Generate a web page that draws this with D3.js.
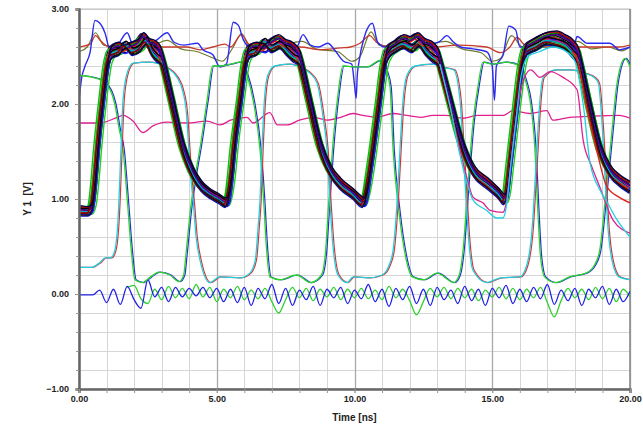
<!DOCTYPE html>
<html><head><meta charset="utf-8">
<script src="https://cdn.jsdelivr.net/npm/d3@7"></script>
<style>
html,body{margin:0;padding:0;background:#fff;}
svg{display:block;}
.tick text{font-family:"Liberation Sans Narrow","Arial Narrow","Liberation Sans",Arial,sans-serif;font-weight:bold;font-size:9px;fill:#222;}
</style></head>
<body><svg id="c" width="643" height="426"></svg>
<script>
// ---------------- DATA ----------------
const xTickLabels = [0, 5, 10, 15, 20];
const yTickLabels = [-1, 0, 1, 2, 3];
const xTitle = "Time [ns]";
const yTitle = "Y 1  [V]";

// two typical shapes of the dense bundle of traces [time ns, volts]
const bundleBaseA = [[0,0.88],[0.3,0.87],[0.45,0.92],[0.55,1.15],[0.65,1.5],[0.85,2.05],[1.0,2.4],[1.15,2.56],[1.4,2.6],[1.6,2.57],[1.85,2.6],[2.1,2.63],[2.3,2.7],[2.5,2.64],[2.7,2.62],[2.9,2.56],[3.05,2.42],[3.35,2.05],[3.75,1.55],[4.1,1.28],[4.4,1.14],[4.7,1.06],[5.0,1.01],[5.3,0.96],[5.4,1.0],[5.5,1.2],[5.6,1.5],[5.85,2.05],[6.0,2.4],[6.15,2.57],[6.4,2.6],[6.7,2.58],[6.95,2.64],[7.2,2.68],[7.45,2.63],[7.7,2.6],[7.95,2.52],[8.05,2.42],[8.35,2.04],[8.75,1.55],[9.1,1.3],[9.45,1.17],[9.9,1.06],[10.2,0.98],[10.3,0.96],[10.4,1.02],[10.5,1.2],[10.65,1.5],[10.9,2.05],[11.05,2.4],[11.2,2.57],[11.45,2.62],[11.75,2.68],[12.0,2.66],[12.25,2.7],[12.5,2.64],[12.8,2.6],[13.0,2.52],[13.1,2.42],[13.45,2.04],[13.95,1.52],[14.3,1.3],[14.8,1.17],[15.2,1.06],[15.4,1.0],[15.5,1.05],[15.6,1.3],[15.7,1.55],[15.9,2.05],[16.05,2.4],[16.2,2.58],[16.5,2.64],[16.9,2.7],[17.3,2.72],[17.6,2.68],[17.9,2.62],[18.1,2.52],[18.2,2.4],[18.5,2.0],[18.9,1.52],[19.25,1.3],[19.6,1.2],[20.0,1.13]];
const bundleBaseB = [[0,0.86],[0.35,0.86],[0.5,0.95],[0.6,1.2],[0.7,1.55],[0.9,2.1],[1.05,2.42],[1.2,2.52],[1.45,2.55],[1.7,2.62],[1.95,2.55],[2.2,2.58],[2.45,2.66],[2.65,2.55],[2.85,2.48],[3.0,2.45],[3.1,2.35],[3.4,1.98],[3.8,1.5],[4.15,1.25],[4.45,1.12],[4.8,1.04],[5.1,0.99],[5.32,0.95],[5.42,1.02],[5.55,1.25],[5.65,1.55],[5.9,2.1],[6.05,2.42],[6.2,2.52],[6.45,2.55],[6.75,2.65],[7.0,2.58],[7.3,2.62],[7.55,2.55],[7.8,2.48],[8.0,2.45],[8.1,2.35],[8.4,1.98],[8.8,1.5],[9.15,1.27],[9.5,1.14],[9.95,1.04],[10.3,0.95],[10.42,1.05],[10.55,1.25],[10.7,1.55],[10.95,2.1],[11.1,2.42],[11.25,2.52],[11.5,2.58],[11.8,2.62],[12.1,2.58],[12.35,2.64],[12.6,2.55],[12.85,2.48],[13.05,2.44],[13.15,2.35],[13.5,1.98],[14.0,1.48],[14.35,1.27],[14.85,1.14],[15.25,1.04],[15.42,0.98],[15.55,1.1],[15.65,1.35],[15.75,1.6],[15.95,2.1],[16.1,2.42],[16.25,2.55],[16.6,2.6],[17.0,2.66],[17.35,2.64],[17.7,2.6],[17.95,2.52],[18.15,2.45],[18.25,2.35],[18.55,1.95],[18.95,1.48],[19.3,1.27],[19.65,1.17],[20.0,1.1]];
// individual traces of the bundle: shape family, time shift (ns), level shift (V), colour
const bundleFamily = ["A","B","A","B","A","B","A","B","A","B","A","B","A","B","A","B","A","B","A","B","A","B"];
const bundleShift = [0.0,0.03,-0.04,0.05,-0.13,0.12,0.06,-0.06,0.1,-0.1,0.02,-0.02,-0.01,0.04,0.07,-0.03,-0.05,0.01,0.03,-0.07,0.05,0.0];
const bundleLift  = [0.02,-0.02,0.04,0.0,0.0,-0.02,-0.03,0.03,0.03,0.02,0.04,-0.04,0.0,0.02,-0.04,0.01,-0.02,0.04,0.01,-0.01,0.05,-0.03];
const bundleColors = ["#000000","#000000","#101060","#303030","#10c010","#20d020","#000080","#0000e0","#008800","#00b000","#d00000","#1010c0","#000000","#c02090","#2020ff","#00b0b0","#e02020","#000000","#5000a0","#800000","#000040","#101010"];

const blueTop = [[0,2.04],[0.1,2.28],[0.22,2.4],[0.4,2.54],[0.58,2.88],[0.76,2.85],[0.94,2.75],[1.13,2.57],[1.4,2.62],[1.75,2.75],[1.96,2.62],[2.4,2.6],[2.85,2.68],[3.2,2.75],[3.45,2.65],[3.8,2.62],[4.3,2.64],[4.5,2.57],[4.85,2.52],[5.12,2.39],[5.35,2.42],[5.6,2.86],[5.78,2.83],[5.96,2.68],[6.2,2.6],[6.6,2.62],[7.0,2.6],[7.5,2.62],[7.9,2.6],[8.13,2.73],[8.4,2.62],[8.7,2.6],[9.03,2.64],[9.3,2.56],[9.6,2.45],[9.9,2.42],[10.0,2.2],[10.06,2.06],[10.1,2.3],[10.15,2.42],[10.35,2.7],[10.65,2.85],[10.84,2.65],[11.1,2.6],[11.6,2.62],[12.1,2.6],[12.6,2.62],[13.1,2.66],[13.35,2.72],[13.6,2.65],[13.85,2.6],[14.3,2.58],[14.8,2.55],[15.0,2.4],[15.08,2.04],[15.15,2.4],[15.4,2.52],[15.6,2.82],[15.85,2.78],[16.0,2.6],[16.5,2.6],[17.0,2.62],[17.5,2.6],[18.0,2.65],[18.08,2.71],[18.45,2.64],[18.7,2.64],[19.27,2.64],[19.62,2.57],[20,2.6]];
const redTop = [[0,2.6],[0.4,2.63],[0.6,2.72],[0.8,2.66],[1.1,2.6],[1.6,2.62],[2.2,2.6],[3.05,2.6],[3.9,2.6],[4.4,2.57],[4.85,2.6],[5.3,2.63],[5.5,2.6],[5.9,2.73],[6.2,2.62],[6.8,2.6],[7.6,2.6],[8.03,2.6],[8.75,2.57],[9.5,2.59],[9.85,2.6],[10.2,2.64],[10.55,2.72],[10.8,2.65],[11.3,2.6],[12,2.62],[12.8,2.6],[13.8,2.62],[14.8,2.6],[15.3,2.54],[15.64,2.6],[15.9,2.7],[16.2,2.62],[17,2.6],[18,2.6],[18.8,2.6],[19.6,2.6],[20,2.62]];
const oliveTop = [[0,2.55],[0.3,2.6],[0.6,2.75],[0.9,2.62],[1.5,2.6],[2.0,2.66],[2.5,2.6],[3.2,2.67],[3.7,2.58],[4.3,2.55],[4.9,2.48],[5.2,2.45],[5.6,2.6],[5.9,2.74],[6.2,2.6],[7,2.6],[8.1,2.66],[8.6,2.58],[9.4,2.55],[9.9,2.45],[10.2,2.5],[10.6,2.76],[10.9,2.62],[11.6,2.6],[12.6,2.62],[13.3,2.66],[13.9,2.58],[14.6,2.54],[15.0,2.45],[15.3,2.48],[15.7,2.72],[16.1,2.6],[17,2.6],[18.1,2.66],[18.6,2.58],[19.2,2.6],[19.7,2.56],[20,2.6]];
const pinkMid = [[0,1.8],[0.75,1.8],[1.4,1.86],[1.6,1.88],[1.96,1.82],[2.32,1.7],[2.68,1.77],[3.2,1.81],[3.9,1.8],[4.65,1.82],[5.12,1.78],[5.5,1.83],[6.1,1.86],[6.32,1.8],[6.93,1.91],[7.2,1.78],[7.55,1.78],[8.0,1.83],[8.5,1.86],[9.0,1.83],[9.5,1.86],[9.95,1.9],[10.3,1.88],[10.8,1.86],[11.4,1.9],[11.9,1.88],[12.4,1.86],[12.85,1.88],[13.3,1.88],[13.95,1.85],[14.45,1.88],[15.4,1.88],[15.75,1.93],[16.37,1.9],[16.98,1.93],[17.2,1.83],[17.82,1.86],[18.5,1.87],[19.6,1.88],[20,1.85]];
const cyanPulse = [[0,0.28],[0.45,0.28],[0.75,0.33],[0.95,0.38],[1.15,0.38],[1.3,0.46],[1.42,0.8],[1.52,1.5],[1.6,2.05],[1.75,2.33],[1.96,2.43],[2.5,2.44],[2.83,2.43],[3.2,2.38],[3.56,2.28],[3.75,2.15],[3.9,1.9],[3.98,1.55],[4.05,1.25],[4.14,0.99],[4.25,0.6],[4.39,0.36],[4.75,0.12],[5.1,0.18],[5.84,0.17],[6.2,0.22],[6.4,0.36],[6.5,0.7],[6.57,0.99],[6.64,1.52],[6.72,2.0],[6.85,2.3],[7.1,2.4],[7.6,2.42],[8.1,2.38],[8.4,2.32],[8.64,2.22],[8.86,1.86],[9.0,1.52],[9.1,1.0],[9.22,0.5],[9.4,0.2],[9.73,0.12],[9.95,0.18],[10.5,0.17],[11.0,0.2],[11.25,0.3],[11.4,0.46],[11.55,0.99],[11.65,1.52],[11.75,2.0],[11.9,2.3],[12.2,2.4],[12.8,2.42],[13.3,2.38],[13.6,2.36],[13.83,2.04],[13.94,1.52],[14.05,1.0],[14.15,0.55],[14.3,0.25],[14.8,0.12],[15.3,0.17],[16.0,0.18],[16.25,0.3],[16.45,0.7],[16.55,1.17],[16.62,1.52],[16.72,2.0],[16.85,2.28],[17.3,2.36],[17.8,2.36],[18.4,2.32],[18.7,2.28],[18.85,2.22],[19.0,1.73],[19.1,1.2],[19.2,0.7],[19.35,0.35],[19.6,0.18],[20,0.15]];
const greenPulse = [[0,2.3],[0.5,2.28],[0.8,2.25],[1.13,2.15],[1.3,2.0],[1.45,1.75],[1.6,1.52],[1.75,1.0],[1.9,0.45],[2.03,0.15],[2.3,0.12],[2.6,0.18],[2.9,0.23],[3.3,0.2],[3.63,0.13],[3.8,0.2],[3.88,0.41],[4.05,0.9],[4.25,1.3],[4.4,1.55],[4.65,2.04],[4.85,2.4],[5.12,2.4],[5.5,2.42],[5.84,2.44],[6.1,2.3],[6.32,2.04],[6.57,1.52],[6.7,1.0],[6.8,0.5],[6.93,0.18],[7.3,0.15],[7.9,0.2],[8.4,0.12],[8.8,0.2],[8.95,0.45],[9.05,0.9],[9.2,1.52],[9.4,2.1],[9.58,2.4],[9.95,2.39],[10.45,2.39],[10.93,2.46],[11.15,2.35],[11.29,2.18],[11.4,1.52],[11.6,0.9],[11.85,0.4],[12.1,0.18],[12.5,0.15],[13.0,0.22],[13.6,0.12],[13.8,0.2],[13.94,0.46],[14.12,1.17],[14.3,1.8],[14.5,2.22],[14.66,2.44],[15.0,2.42],[15.5,2.44],[16.0,2.4],[16.2,2.25],[16.37,2.04],[16.55,1.52],[16.65,0.9],[16.75,0.4],[16.9,0.18],[17.3,0.12],[17.8,0.18],[18.4,0.22],[18.7,0.3],[18.9,0.46],[19.1,0.99],[19.35,1.73],[19.53,2.22],[19.82,2.48],[20,2.39]];
// fast ringing near 0 V, sampled every 0.25 ns
const blueRingStart = 0, ringStep = 0.25;
const blueRing = [-0.01,-0.01,-0.01,0.04,-0.09,0.05,-0.11,0.08,-0.06,-0.15,0.15,-0.03,0.07,-0.08,0.07,-0.03,0.06,-0.02,0.07,-0.04,0.06,-0.08,0.05,-0.09,0.07,-0.12,0.06,-0.05,0.1,-0.1,0.06,-0.12,0.04,-0.06,0.08,-0.12,0.05,-0.04,0.07,-0.1,0.04,-0.05,0.1,-0.08,0.05,-0.13,0.06,-0.06,0.08,-0.1,0.05,-0.12,0.07,-0.06,0.04,-0.1,0.08,-0.07,0.05,-0.12,0.06,-0.04,0.09,-0.1,0.05,-0.08,0.07,-0.05,0.1,-0.11,0.04,-0.07,0.06,-0.12,0.05,-0.04,0.08,-0.11,0.05,-0.08,0.03];
const greenRingStart = 1.75;
const greenRing = [0.07,0.09,-0.05,-0.1,0.05,-0.06,0.08,-0.04,0.06,-0.05,0.1,-0.03,0.07,-0.08,0.05,-0.04,0.08,-0.06,0.04,-0.05,0.06,-0.08,-0.2,-0.06,0.07,-0.04,0.06,-0.07,0.05,-0.03,0.07,-0.06,0.05,-0.04,0.06,-0.05,0.04,-0.06,0.08,-0.04,0.05,-0.07,-0.22,-0.08,0.06,-0.03,0.07,-0.05,0.06,-0.04,0.05,-0.07,0.04,-0.03,0.07,-0.05,0.06,-0.06,0.05,-0.04,0.07,-0.09,-0.24,-0.07,0.06,-0.04,0.05,-0.06,0.07,-0.05,0.06,-0.08,0.05,-0.03];
// traces that leave the bundle on the right
const pinkOut = [[13.1,2.42],[13.45,2.0],[13.8,1.55],[14.1,1.2],[14.3,1.02],[14.66,0.96],[14.92,0.88],[15.39,0.86],[15.5,0.95],[15.65,1.3],[15.8,1.7],[16.0,2.1],[16.2,2.3],[16.4,2.36],[16.73,2.28],[17.1,2.34],[17.57,2.28],[18.08,2.15],[18.3,1.62],[18.6,1.35],[18.9,1.13],[19.38,0.78],[20,0.64]];
const cyanOut = [[13.1,2.42],[13.45,2.0],[13.8,1.5],[14.1,1.15],[14.3,0.99],[14.8,0.88],[15.17,0.8],[15.39,0.8],[15.53,0.96],[15.65,1.3],[15.85,1.8],[16.05,2.3],[16.3,2.5],[16.7,2.55],[17.2,2.6],[17.7,2.55],[18.0,2.45],[18.3,2.0],[18.55,1.38],[18.9,1.1],[19.2,0.95],[19.53,0.78],[20,0.6]];
const redOut = [[17.9,2.55],[18.1,2.45],[18.4,2.0],[18.8,1.5],[19.16,1.13],[19.6,1.02],[20,0.96]];

// ---------------- CHART ----------------
const svg = d3.select("#c");
const L = 79, R = 630, T = 9, B = 389;
const x = d3.scaleLinear().domain([0, 20]).range([L, R]);
const y = d3.scaleLinear().domain([-1, 3]).range([B, T]);

// grid
const g = svg.append("g");
g.selectAll(".hg").data(d3.range(-1, 3.001, 0.2)).join("line")
  .attr("x1", L).attr("x2", R).attr("y1", d => Math.round(y(d)) + 0.5).attr("y2", d => Math.round(y(d)) + 0.5)
  .attr("stroke", "#d6d6d6").attr("stroke-width", 1);
g.selectAll(".vg").data(d3.range(0, 21, 1)).join("line")
  .attr("y1", T).attr("y2", B).attr("x1", d => Math.round(x(d)) + 0.5).attr("x2", d => Math.round(x(d)) + 0.5)
  .attr("stroke", d => d % 5 === 0 ? "#a9a9a9" : "#d6d6d6").attr("stroke-width", d => d % 5 === 0 ? 1.3 : 1);

// frame
svg.append("rect").attr("x", L).attr("y", T).attr("width", R - L).attr("height", B - T)
  .attr("fill", "none").attr("stroke", "#bdbdbd").attr("stroke-width", 1);
svg.append("line").attr("x1", R).attr("x2", R).attr("y1", T).attr("y2", B).attr("stroke", "#8a8a8a").attr("stroke-width", 1.5);

// clip
svg.append("defs").append("clipPath").attr("id", "clip").append("rect")
  .attr("x", L).attr("y", T - 2).attr("width", R - L).attr("height", B - T + 2);
const plot = svg.append("g").attr("clip-path", "url(#clip)");

const line = d3.line().x(d => x(d[0])).y(d => y(d[1])).curve(d3.curveMonotoneX);
function draw(data, color, w, dx) {
  plot.append("path").attr("d", line(data)).attr("fill", "none")
    .attr("stroke", color).attr("stroke-width", w || 1.3)
    .attr("stroke-linejoin", "round")
    .attr("transform", dx ? `translate(${dx},0)` : null);
}

draw(oliveTop, "#6f7a2a", 1.2);
draw(redTop, "#c83a2a", 1.3);
draw(blueTop, "#2a2af0", 1.4);
draw(pinkMid, "#e0208f", 1.3);

const ringBlue = blueRing.map((v, i) => [blueRingStart + i * ringStep, v]);
const ringGreen = greenRing.map((v, i) => [greenRingStart + i * ringStep, v]);
draw(ringGreen, "#30d030", 1.3);
draw(ringBlue, "#2020e8", 1.3);

draw(greenPulse, "#2a2ae0", 1.2, 1.2);
draw(greenPulse, "#2ad42a", 1.3);
draw(cyanPulse, "#e03030", 1.2, 1.2);
draw(cyanPulse, "#20d0e0", 1.3);

const bases = { A: bundleBaseA, B: bundleBaseB };
bundleShift.forEach((dt, i) => {
  const dv = bundleLift[i];
  const tr = bases[bundleFamily[i]].map(p => [p[0] + dt, p[1] + dv]);
  draw(tr, bundleColors[i], 1.4);
});

draw(redOut, "#e02020", 1.3);
draw(pinkOut, "#e0208f", 1.3);
draw(cyanOut, "#20d0e0", 1.3);

// axes
const yAx = svg.append("g").attr("transform", `translate(${L},0)`)
  .call(d3.axisLeft(y).tickValues(yTickLabels).tickFormat(d3.format(".2f")).tickSize(4).tickPadding(6));
const yMinor = svg.append("g").attr("transform", `translate(${L},0)`)
  .call(d3.axisLeft(y).tickValues(d3.range(-1, 3.001, 0.2)).tickFormat("").tickSize(3));
const xAx = svg.append("g").attr("transform", `translate(0,${B})`)
  .call(d3.axisBottom(x).tickValues(xTickLabels).tickFormat(d3.format(".2f")).tickSize(4).tickPadding(3));
const xMinor = svg.append("g").attr("transform", `translate(0,${B})`)
  .call(d3.axisBottom(x).tickValues(d3.range(0, 21, 1)).tickFormat("").tickSize(4));
[yAx, yMinor, xAx, xMinor].forEach(a => {
  a.select(".domain").attr("stroke", "#666").attr("stroke-width", 2);
  a.selectAll(".tick line").attr("stroke", "#999");
});

svg.append("text").attr("x", (L + R) / 2).attr("y", 421).attr("text-anchor", "middle")
  .style("font-family", '"Liberation Sans Narrow","Liberation Sans",Arial,sans-serif')
  .style("font-weight", "bold").style("font-size", "10px").attr("fill", "#222").text(xTitle);
svg.append("text").attr("transform", `translate(31,${(T + B) / 2}) rotate(-90)`).attr("text-anchor", "middle")
  .style("font-family", '"Liberation Sans","DejaVu Sans",Arial,sans-serif').style("white-space", "pre")
  .style("font-weight", "bold").style("font-size", "10px").attr("fill", "#222").text(yTitle);
</script></body></html>
